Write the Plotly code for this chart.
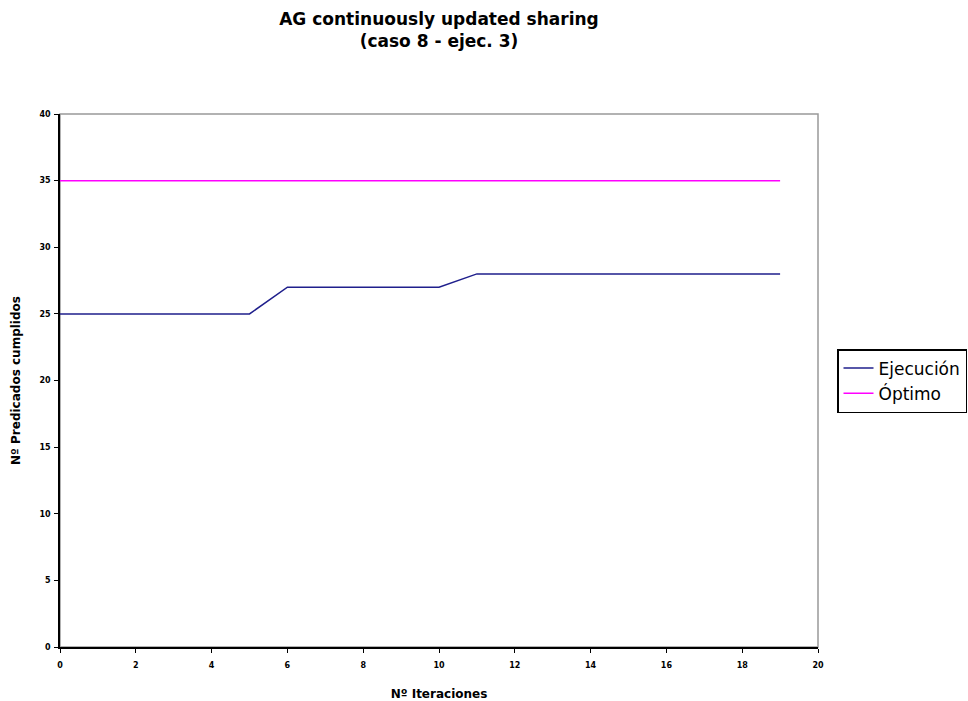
import plotly.graph_objects as go

iteraciones = list(range(20))
ejecucion = [25, 25, 25, 25, 25, 25, 27, 27, 27, 27, 27, 28, 28, 28, 28, 28, 28, 28, 28, 28]
optimo = [35] * 20

x_ticks = list(range(0, 21, 2))
y_ticks = list(range(0, 41, 5))

fig = go.Figure()
fig.add_trace(go.Scatter(x=iteraciones, y=ejecucion, mode="lines", name="Ejecución",
                         line=dict(color="#1f1f8c", width=1.5)))
fig.add_trace(go.Scatter(x=iteraciones, y=optimo, mode="lines", name="Óptimo",
                         line=dict(color="#ff00ff", width=1.5)))

# gray frame around the plot area
fig.add_shape(type="rect", xref="paper", yref="paper", x0=0, y0=0, x1=1, y1=1,
              line=dict(color="#999999", width=1.5), layer="below")

tick_font = dict(size=8, family="DejaVu Sans", weight="bold")

fig.update_layout(
    width=968, height=701,
    margin=dict(l=60, r=150, t=114, b=54, autoexpand=False),
    paper_bgcolor="white", plot_bgcolor="white",
    title=dict(text="<b>AG continuously updated sharing<br>(caso 8 - ejec. 3)</b>",
               x=439 / 968, xanchor="center", y=0.965, yanchor="top",
               font=dict(family="DejaVu Sans", size=17, color="black")),
    font=dict(family="DejaVu Sans", color="black"),
    xaxis=dict(range=[0, 20], tickvals=x_ticks, showgrid=False, zeroline=False,
               showline=True, linecolor="black", linewidth=1.5,
               ticks="outside", ticklen=4, tickcolor="black",
               tickfont=tick_font, ticklabelstandoff=6, automargin=False,
               title=dict(text="<b>Nº Iteraciones</b>", font=dict(size=12), standoff=20)),
    yaxis=dict(range=[0, 40], tickvals=y_ticks, showgrid=False, zeroline=False,
               showline=True, linecolor="black", linewidth=1.5,
               ticks="outside", ticklen=4, tickcolor="black",
               tickfont=tick_font, ticklabelstandoff=2, automargin=False,
               title=dict(text="<b>Nº Predicados cumplidos</b>", font=dict(size=12), standoff=16)),
    legend=dict(x=(837 - 60) / 758, y=(647 - 349) / 533, xanchor="left", yanchor="top",
                bordercolor="black", borderwidth=1.5, bgcolor="white",
                font=dict(size=17, family="DejaVu Sans"), tracegroupgap=0,
                itemwidth=30),
    showlegend=True,
)

fig.write_html("out.html")
